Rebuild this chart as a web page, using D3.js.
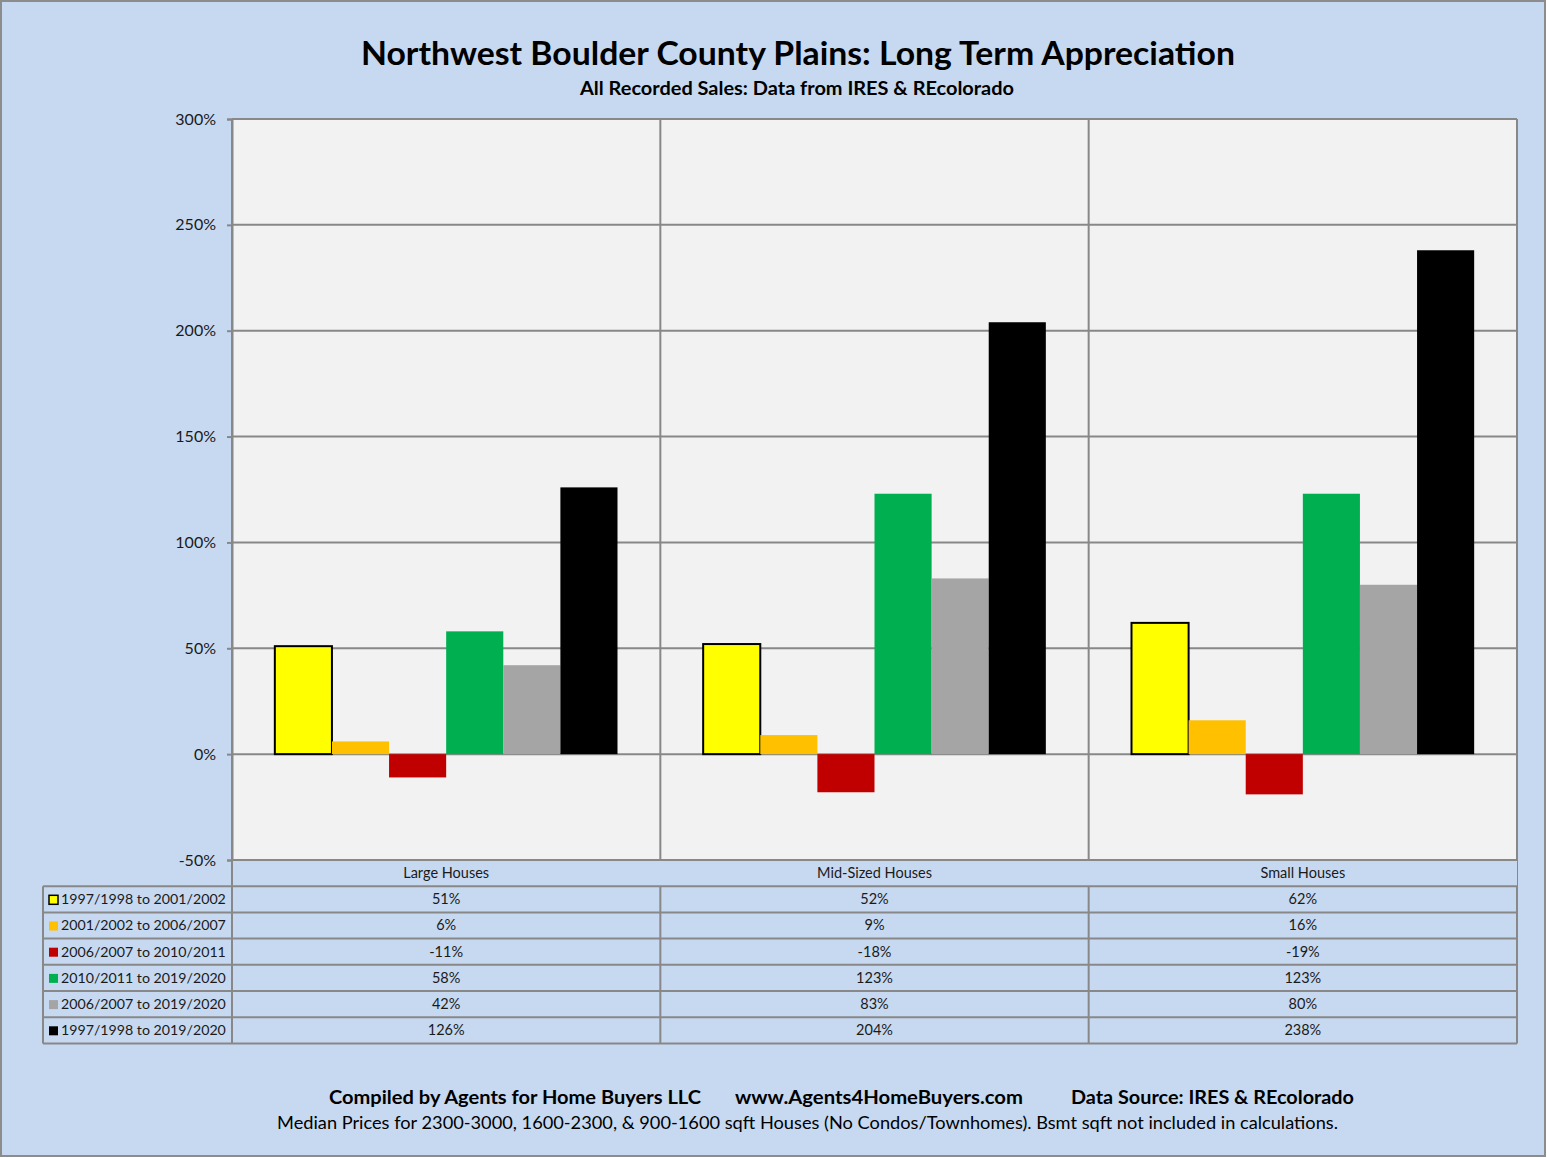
<!DOCTYPE html>
<html>
<head>
<meta charset="utf-8">
<script src="https://cdn.jsdelivr.net/npm/d3@7"></script>
<style>
  body { margin: 0; background: #fff; }
  text { font-family: Lato, "Open Sans", sans-serif; fill: #1a1a1a; }
</style>
</head>
<body>
<script>
// Data
const categories = ['Large Houses', 'Mid-Sized Houses', 'Small Houses'];
const seriesNames = [
  '1997/1998 to 2001/2002',
  '2001/2002 to 2006/2007',
  '2006/2007 to 2010/2011',
  '2010/2011 to 2019/2020',
  '2006/2007 to 2019/2020',
  '1997/1998 to 2019/2020'
];
const seriesColors = ['#FFFF00', '#FFC000', '#C00000', '#00B050', '#A5A5A5', '#000000'];
// values[series][category], percent
const values = [
  [51, 52, 62],
  [6, 9, 16],
  [-11, -18, -19],
  [58, 123, 123],
  [42, 83, 80],
  [126, 204, 238]
];
const yTicks = [-50, 0, 50, 100, 150, 200, 250, 300];

const [w, h] = [1547, 1158];
const plot = { left: 232, right: 1517, top: 119, bottom: 860 };
const tableLeft = 43;
const rowH = 26.2;

const svg = d3.select('body').append('svg')
  .attr('width', w)
  .attr('height', h);

// Background and outer border
svg.append('rect')
  .attr('x', 1).attr('y', 1)
  .attr('width', w - 3).attr('height', h - 3)
  .attr('fill', '#C6D9F1')
  .attr('stroke', '#8c8c8c')
  .attr('stroke-width', 2);

// Titles
svg.append('text')
  .attr('x', 798).attr('y', 65)
  .attr('text-anchor', 'middle')
  .attr('font-size', '32px').attr('font-weight', 'bold')
  .attr('textLength', 874).attr('lengthAdjust', 'spacingAndGlyphs')
  .style('fill', '#000')
  .text('Northwest Boulder County Plains: Long Term Appreciation');

svg.append('text')
  .attr('x', 797).attr('y', 95)
  .attr('text-anchor', 'middle')
  .attr('font-size', '19px').attr('font-weight', 'bold')
  .attr('textLength', 434).attr('lengthAdjust', 'spacingAndGlyphs')
  .style('fill', '#000')
  .text('All Recorded Sales: Data from IRES & REcolorado');

// Scales
const x = d3.scaleBand()
  .domain(categories)
  .range([plot.left, plot.right]);

const xInner = d3.scaleBand()
  .domain(seriesNames)
  .range([0, x.bandwidth()])
  .paddingInner(0)
  .paddingOuter(0.75);

const y = d3.scaleLinear()
  .domain([-50, 300])
  .range([plot.bottom, plot.top]);

// Plot area
svg.append('rect')
  .attr('x', plot.left).attr('y', plot.top)
  .attr('width', plot.right - plot.left)
  .attr('height', plot.bottom - plot.top)
  .attr('fill', '#F2F2F2');

// Gridlines
svg.append('g')
  .selectAll('line')
  .data(yTicks)
  .join('line')
  .attr('x1', plot.left).attr('x2', plot.right)
  .attr('y1', d => y(d)).attr('y2', d => y(d))
  .attr('stroke', '#888')
  .attr('stroke-width', 2);

// Category dividers (through plot and table)
const tableBottom = plot.bottom + rowH * (seriesNames.length + 1);
svg.append('g')
  .selectAll('line')
  .data(categories.slice(1))
  .join('line')
  .attr('x1', d => x(d)).attr('x2', d => x(d))
  .attr('y1', plot.top).attr('y2', tableBottom)
  .attr('stroke', '#888')
  .attr('stroke-width', 2);

// Right border of plot
svg.append('line')
  .attr('x1', plot.right).attr('x2', plot.right)
  .attr('y1', plot.top).attr('y2', tableBottom)
  .attr('stroke', '#888').attr('stroke-width', 2);

// Bars
const barData = [];
seriesNames.forEach((s, i) => {
  categories.forEach((c, j) => {
    barData.push({ series: s, cat: c, value: values[i][j], color: seriesColors[i], idx: i });
  });
});

svg.append('g')
  .selectAll('rect')
  .data(barData)
  .join('rect')
  .attr('x', d => x(d.cat) + xInner(d.series))
  .attr('y', d => y(Math.max(0, d.value)))
  .attr('width', xInner.bandwidth())
  .attr('height', d => Math.abs(y(d.value) - y(0)))
  .attr('fill', d => d.color)
  .attr('stroke', d => d.idx === 0 ? '#000' : 'none')
  .attr('stroke-width', 2);

// Y axis
const yAxis = d3.axisLeft(y)
  .tickValues(yTicks)
  .tickSize(5)
  .tickFormat(d => d + '%');

const gy = svg.append('g')
  .attr('transform', `translate(${plot.left}, 0)`)
  .call(yAxis);
gy.select('.domain').attr('stroke', '#888').attr('stroke-width', 2);
gy.selectAll('.tick line').attr('stroke', '#888').attr('stroke-width', 2);
gy.selectAll('.tick text')
  .attr('x', -16)
  .attr('font-size', '16px')
  .attr('font-family', 'Lato, sans-serif')
  .style('fill', '#1a1a1a');

// Data table
const table = svg.append('g');

// Header row
table.append('rect')
  .attr('x', plot.left).attr('y', plot.bottom)
  .attr('width', plot.right - plot.left).attr('height', rowH)
  .attr('fill', '#C6D9F1');

table.selectAll('.cat-label')
  .data(categories)
  .join('text')
  .attr('class', 'cat-label')
  .attr('x', d => x(d) + x.bandwidth() / 2)
  .attr('y', plot.bottom + rowH / 2 + 5)
  .attr('text-anchor', 'middle')
  .attr('font-size', '14.5px')
  .text(d => d);

// Horizontal lines of the table
const hLines = d3.range(seriesNames.length + 2).map(i => plot.bottom + i * rowH);
table.selectAll('.hline')
  .data(hLines)
  .join('line')
  .attr('class', 'hline')
  .attr('x1', (d, i) => i === 0 ? plot.left : tableLeft)
  .attr('x2', plot.right)
  .attr('y1', d => d).attr('y2', d => d)
  .attr('stroke', '#888').attr('stroke-width', 2);

// Left column verticals
[tableLeft, plot.left].forEach((lx, k) => {
  table.append('line')
    .attr('x1', lx).attr('x2', lx)
    .attr('y1', k === 0 ? plot.bottom + rowH : plot.top)
    .attr('y2', tableBottom)
    .attr('stroke', '#888').attr('stroke-width', 2);
});

// Series rows
const rows = table.selectAll('.row')
  .data(seriesNames)
  .join('g')
  .attr('class', 'row')
  .attr('transform', (d, i) => `translate(0, ${plot.bottom + (i + 1) * rowH})`);

rows.append('rect')
  .attr('x', tableLeft + 6)
  .attr('y', rowH / 2 - 4)
  .attr('width', 9).attr('height', 9)
  .attr('fill', (d, i) => seriesColors[i])
  .attr('stroke', (d, i) => i === 0 ? '#000' : 'none')
  .attr('stroke-width', 1.5);

rows.append('text')
  .attr('x', tableLeft + 18)
  .attr('y', rowH / 2 + 5)
  .attr('font-size', '14.2px')
  .text(d => d);

rows.each(function (s, i) {
  d3.select(this).selectAll('.val')
    .data(categories)
    .join('text')
    .attr('class', 'val')
    .attr('x', c => x(c) + x.bandwidth() / 2)
    .attr('y', rowH / 2 + 5)
    .attr('text-anchor', 'middle')
    .attr('font-size', '14.5px')
    .text((c, j) => values[i][j] + '%');
});

// Footer
const footer1 = [
  { text: 'Compiled by Agents for Home Buyers LLC', x: 329, len: 372 },
  { text: 'www.Agents4HomeBuyers.com', x: 735, len: 288 },
  { text: 'Data Source: IRES & REcolorado', x: 1071, len: 283 }
];
svg.selectAll('.foot1')
  .data(footer1)
  .join('text')
  .attr('class', 'foot1')
  .attr('x', d => d.x).attr('y', 1104)
  .attr('font-size', '19px').attr('font-weight', 'bold')
  .attr('textLength', d => d.len).attr('lengthAdjust', 'spacingAndGlyphs')
  .style('fill', '#000')
  .text(d => d.text);

svg.append('text')
  .attr('x', 277).attr('y', 1129)
  .attr('font-size', '18px')
  .attr('textLength', 1061).attr('lengthAdjust', 'spacingAndGlyphs')
  .style('fill', '#000')
  .text('Median Prices for 2300-3000, 1600-2300, & 900-1600 sqft Houses (No Condos/Townhomes).  Bsmt sqft not included in calculations.');
</script>
</body>
</html>
